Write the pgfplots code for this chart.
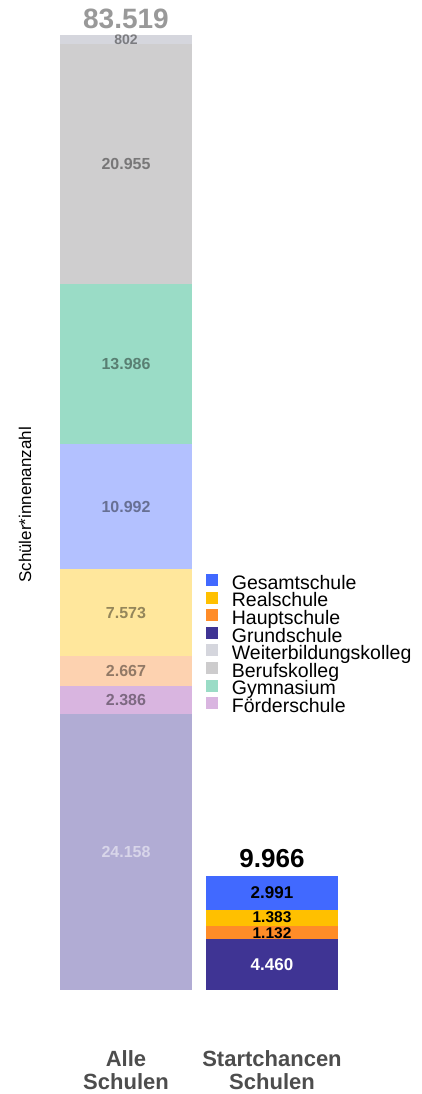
\documentclass[border=0pt]{standalone}
\usepackage{pgfplots}
\pgfplotsset{compat=1.18}
\usepackage{fontspec}
\setmainfont{Liberation Sans}
\definecolor{cGes}{HTML}{4169FF}
\definecolor{cReal}{HTML}{FFC000}
\definecolor{cHaupt}{HTML}{FF8C28}
\definecolor{cGrund}{HTML}{3F3494}
\definecolor{cWeiter}{HTML}{D5D6DD}
\definecolor{cBeruf}{HTML}{CDCCCD}
\definecolor{cGym}{HTML}{9ADCC6}
\definecolor{cFoerd}{HTML}{D9B5E0}
\definecolor{fGes}{HTML}{B3C1FF}
\definecolor{fReal}{HTML}{FFE79C}
\definecolor{fHaupt}{HTML}{FDD2B0}
\definecolor{fGrund}{HTML}{B1ACD4}
\definecolor{fBeruf}{HTML}{CFCECF}
\definecolor{fWeiter}{HTML}{D5D6DD}
\definecolor{tickc}{HTML}{4D4D4D}
\pgfplotsset{
  base/.style={
    at={(60pt,104pt)}, anchor=south west, scale only axis,
    width=278pt, height=955pt,
    xmin=-0.452, xmax=1.452, ymin=0, ymax=83519,
    clip=false,
  },
  lab/.style={draw=none, forget plot, point meta=explicit symbolic,
    nodes near coords={\pgfplotspointmeta},
    every node near coord/.append style={anchor=center, inner sep=0pt, #1}},
}
\begin{document}
\begin{tikzpicture}
\useasboundingbox (0,0) rectangle (421pt,1094pt);
% Alle Schulen
\begin{axis}[base, ybar stacked, bar width=132pt,
  axis line style={draw=none}, tick style={draw=none},
  ytick=\empty, xtick={0,1},
  xticklabels={Alle\\Schulen, Startchancen\\Schulen},
  xticklabel style={align=center, font=\bfseries\fontsize{22}{23.5}\selectfont, text=tickc, yshift=-57pt},
]
\addplot[fill=fGrund, draw=none, forget plot] coordinates {(0,24158)};
\addplot[fill=cFoerd, draw=none, forget plot] coordinates {(0,2386)};
\addplot[fill=fHaupt, draw=none, forget plot] coordinates {(0,2667)};
\addplot[fill=fReal, draw=none, forget plot] coordinates {(0,7573)};
\addplot[fill=fGes, draw=none, forget plot] coordinates {(0,10992)};
\addplot[fill=cGym, draw=none, forget plot] coordinates {(0,13986)};
\addplot[fill=fBeruf, draw=none, forget plot] coordinates {(0,20955)};
\addplot[fill=fWeiter, draw=none, forget plot] coordinates {(0,802)};
\node[rotate=90, font=\fontsize{17}{17}\selectfont] at ([xshift=-35pt]axis description cs:0,0.508) {Schüler*innenanzahl};
\end{axis}
% Startchancen Schulen
\begin{axis}[base, ybar stacked, bar width=132pt, hide axis]
\addplot[fill=cGrund, draw=none, forget plot] coordinates {(1,4460)};
\addplot[fill=cHaupt, draw=none, forget plot] coordinates {(1,1132)};
\addplot[fill=cReal, draw=none, forget plot] coordinates {(1,1383)};
\addplot[fill=cGes, draw=none, forget plot] coordinates {(1,2991)};
\end{axis}
% labels and legend
\begin{axis}[base, hide axis,
  legend image code/.code={\fill[#1, draw=none] (0pt,-1pt) rectangle (12pt,11pt);},
  legend style={at={(axis description cs:0.524,0.4356)}, anchor=north west,
    draw=none, fill=none, inner sep=0pt, row sep=-2.3pt,
    font=\fontsize{19.5}{19.5}\selectfont,
    nodes={inner sep=0pt, text height=13pt, text depth=4.7pt},
    /tikz/every odd column/.append style={column sep=14pt}},
  legend cell align=left,
]
\addplot[lab={font=\bfseries\fontsize{16}{16}\selectfont, text=black, text opacity=0.42}]
  coordinates {(0,25351)[2.386] (0,27877.5)[2.667] (0,32997.5)[7.573] (0,42280)[10.992] (0,54769)[13.986] (0,72239.5)[20.955]};
\addplot[lab={font=\bfseries\fontsize{14}{14}\selectfont, text=black, text opacity=0.42}]
  coordinates {(0,83118)[802]};
\addplot[lab={font=\bfseries\fontsize{16}{16}\selectfont, text=white, text opacity=0.5}]
  coordinates {(0,12079)[24.158]};
\addplot[lab={font=\bfseries\fontsize{28}{28}\selectfont, text=black, text opacity=0.4, anchor=south, yshift=5.7pt}]
  coordinates {(0,83519)[83.519]};
\addplot[lab={font=\bfseries\fontsize{17}{17}\selectfont, text=black}]
  coordinates {(1,8470.5)[2.991]};
\addplot[lab={font=\bfseries\fontsize{15.5}{15.5}\selectfont, text=black}]
  coordinates {(1,4960)[1.132] (1,6340)[1.383]};
\addplot[lab={font=\bfseries\fontsize{17}{17}\selectfont, text=white}]
  coordinates {(1,2230)[4.460]};
\addplot[lab={font=\bfseries\fontsize{26}{26}\selectfont, text=black, anchor=south, yshift=8pt}]
  coordinates {(1,9966)[9.966]};
\addlegendimage{fill=cGes}\addlegendentry{Gesamtschule}
\addlegendimage{fill=cReal}\addlegendentry{Realschule}
\addlegendimage{fill=cHaupt}\addlegendentry{Hauptschule}
\addlegendimage{fill=cGrund}\addlegendentry{Grundschule}
\addlegendimage{fill=cWeiter}\addlegendentry{Weiterbildungskolleg}
\addlegendimage{fill=cBeruf}\addlegendentry{Berufskolleg}
\addlegendimage{fill=cGym}\addlegendentry{Gymnasium}
\addlegendimage{fill=cFoerd}\addlegendentry{Förderschule}
\end{axis}
\end{tikzpicture}
\end{document}
